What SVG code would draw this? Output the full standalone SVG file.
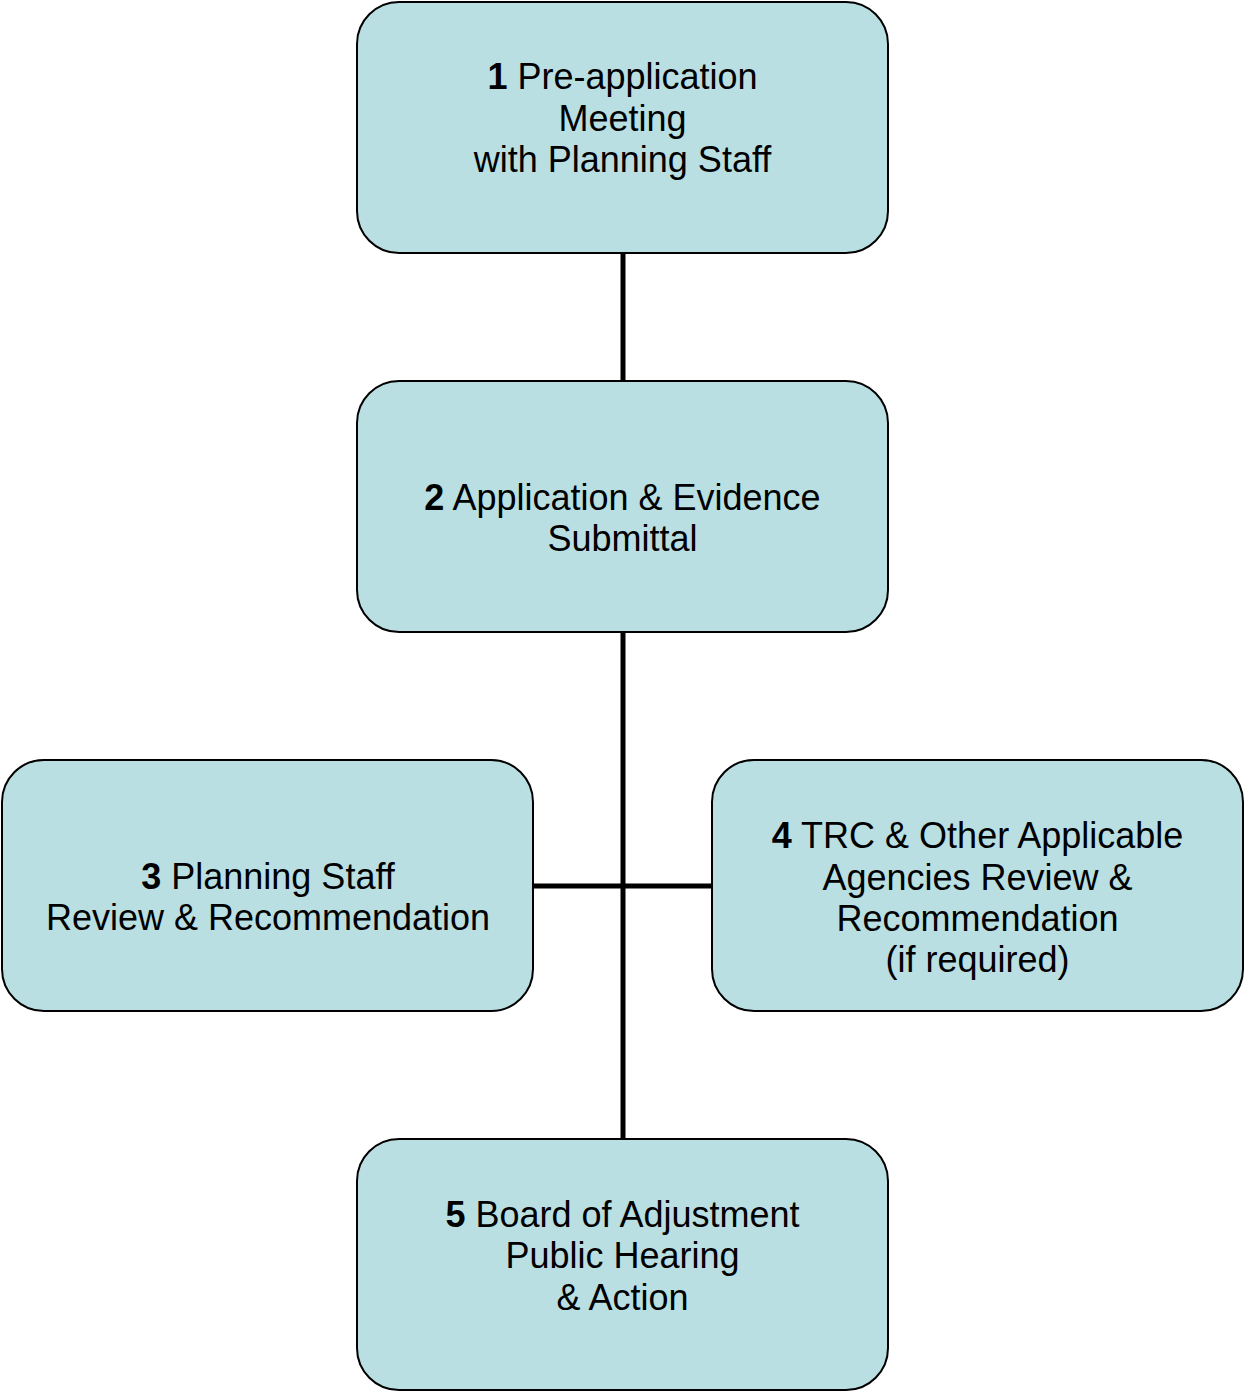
<svg xmlns="http://www.w3.org/2000/svg" width="1245" height="1393" viewBox="0 0 1245 1393">
<style>
.box{fill:#B9DFE2;stroke:#000;stroke-width:2}
.t{font-family:"Liberation Sans",Arial,sans-serif;font-size:36px;fill:#000;text-anchor:middle}
.b{font-weight:bold}
.c{stroke:#000;stroke-width:5;fill:none}
</style>
<rect width="1245" height="1393" fill="#fff"/>
<g id="connectors">
<line class="c" x1="623" y1="253" x2="623" y2="381"/>
<line class="c" x1="623" y1="632" x2="623" y2="1139"/>
<line class="c" x1="533" y1="886" x2="712" y2="886"/>
</g>
<g id="node1">
<rect class="box" x="357" y="2" width="531" height="251" rx="42"/>
<text class="t" x="622.5" y="89"><tspan class="b">1</tspan> Pre-application</text>
<text class="t" x="622.5" y="130.5">Meeting</text>
<text class="t" x="622.5" y="172">with Planning Staff</text>
</g>
<g id="node2">
<rect class="box" x="357" y="381" width="531" height="251" rx="42"/>
<text class="t" x="622.5" y="510"><tspan class="b">2</tspan> Application &amp; Evidence</text>
<text class="t" x="622.5" y="551">Submittal</text>
</g>
<g id="node3">
<rect class="box" x="2" y="760" width="531" height="251" rx="42"/>
<text class="t" x="268" y="889"><tspan class="b">3</tspan> Planning Staff</text>
<text class="t" x="268" y="930">Review &amp; Recommendation</text>
</g>
<g id="node4">
<rect class="box" x="712" y="760" width="531" height="251" rx="42"/>
<text class="t" x="977.5" y="848"><tspan class="b">4</tspan> TRC &amp; Other Applicable</text>
<text class="t" x="977.5" y="889.5">Agencies Review &amp;</text>
<text class="t" x="977.5" y="931">Recommendation</text>
<text class="t" x="977.5" y="972">(if required)</text>
</g>
<g id="node5">
<rect class="box" x="357" y="1139" width="531" height="251" rx="42"/>
<text class="t" x="622.5" y="1227"><tspan class="b">5</tspan> Board of Adjustment</text>
<text class="t" x="622.5" y="1268">Public Hearing</text>
<text class="t" x="622.5" y="1310">&amp; Action</text>
</g>
</svg>
